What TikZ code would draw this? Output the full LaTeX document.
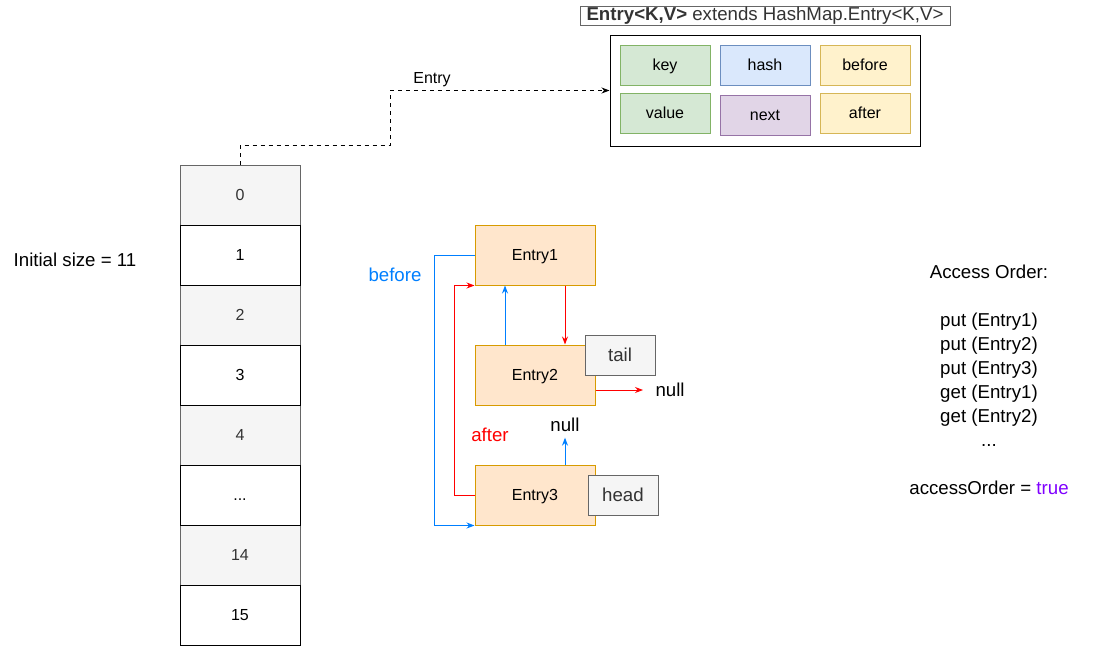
\documentclass[tikz,border=0pt]{standalone}
\usepackage{fontspec}
\setmainfont{Liberation Sans}
\usetikzlibrary{arrows.meta}

\definecolor{cellfill}{HTML}{F5F5F5}
\definecolor{cellline}{HTML}{666666}
\definecolor{celltext}{HTML}{333333}
\definecolor{keyfill}{HTML}{D5E8D4}
\definecolor{keyline}{HTML}{82B366}
\definecolor{hashfill}{HTML}{DAE8FC}
\definecolor{hashline}{HTML}{6C8EBF}
\definecolor{linkfill}{HTML}{FFF2CC}
\definecolor{linkline}{HTML}{D6B656}
\definecolor{nextfill}{HTML}{E1D5E7}
\definecolor{nextline}{HTML}{9673A6}
\definecolor{entryfill}{HTML}{FFE6CC}
\definecolor{entryline}{HTML}{D79B00}
\definecolor{beforecol}{HTML}{007FFF}
\definecolor{aftercol}{HTML}{FF0000}
\definecolor{truecol}{HTML}{7F00FF}

\begin{document}
\begin{tikzpicture}[x=0.75pt,y=-0.75pt,line width=0.75pt,
  bigtext/.style={font=\fontsize{14}{18}\selectfont},
  smalltext/.style={font=\fontsize{12}{14}\selectfont},
  smallbox/.style={smalltext, text height=10.8pt, text depth=2.4pt},
  bigbox/.style={bigtext, text height=12.6pt, text depth=2.8pt},
  cell/.style={draw, minimum width=90pt, minimum height=45pt, inner sep=0pt, smallbox},
  darkcell/.style={cell, fill=cellfill, draw=cellline, text=celltext},
  field/.style={draw, minimum width=67.5pt, minimum height=30pt, inner sep=0pt, smallbox},
  entry/.style={draw=entryline, fill=entryfill, minimum width=90pt, minimum height=45pt, inner sep=0pt, smallbox},
  marker/.style={draw=cellline, fill=cellfill, text=celltext, minimum width=52.5pt, minimum height=30pt, inner sep=0pt, bigbox},
  tip/.style={-{Stealth[length=6pt,width=4.5pt]}}]
  \useasboundingbox (0,0) rectangle (1111,646);

  % Bucket array
  \node[darkcell] (c0) at (240,195) {0};
  \node[darkcell] (c2) at (240,315) {2};
  \node[darkcell] (c4) at (240,435) {4};
  \node[darkcell] (c14) at (240,555) {14};
  \node[cell] (c1) at (240,255) {1};
  \node[cell] (c3) at (240,375) {3};
  \node[cell] (cdots) at (240,495) {...};
  \node[cell] (c15) at (240,615) {15};
  \node[bigtext] (size) at (75,260) {Initial size = 11};

  % Entry class
  \node[draw=cellline, text=celltext, minimum width=277.5pt, minimum height=14.25pt, inner sep=0pt, bigtext]
    (title) at (765,15.5) {\textbf{Entry<K,V>} extends HashMap.Entry<K,V>};
  \node[draw, minimum width=232.5pt, minimum height=83.25pt] (entrybox) at (765,90.5) {};
  \node[field, fill=keyfill, draw=keyline] (key) at (665,65) {key};
  \node[field, fill=hashfill, draw=hashline] (hash) at (765,65) {hash};
  \node[field, fill=linkfill, draw=linkline] (before) at (865,65) {before};
  \node[field, fill=keyfill, draw=keyline] (value) at (665,113) {value};
  \node[field, fill=nextfill, draw=nextline] (next) at (765,115) {next};
  \node[field, fill=linkfill, draw=linkline] (after) at (865,113) {after};

  % Link from bucket to entry
  \coordinate (bend) at (390,145);
  \draw[dashed, tip] (c0.north) |- (bend) |- (entrybox.west);
  \node[smalltext] (entrylabel) at (432,80) {Entry};

  % Linked entries
  \node[entry] (e1) at (535,255) {Entry1};
  \node[entry] (e2) at (535,375) {Entry2};
  \node[entry] (e3) at (535,495) {Entry3};
  \node[marker] (tail) at (620,355) {tail};
  \node[marker] (head) at (623,495) {head};
  \node[bigtext, anchor=west, inner sep=0pt] (nulltail) at (655,390) {null};
  \node[bigtext, anchor=base, inner sep=0pt] (nullhead) at (565,431) {null};

  \draw[beforecol, tip] ([xshift=-22.5pt]e2.north) -- ([xshift=-22.5pt]e1.south);
  \draw[aftercol, tip] ([xshift=22.5pt]e1.south) -- ([xshift=22.5pt]e2.north);
  \draw[aftercol, tip, shorten >=9pt] ([yshift=-11.25pt]e2.east) -- (nulltail.west |- 0,390);
  \draw[beforecol, tip, shorten >=5pt] ([xshift=22.5pt]e3.north) -- (nullhead.base);
  \draw[beforecol, tip] (e1.west) -- ++(-40,0) |- (e3.south west);
  \draw[aftercol, tip] (e3.west) -- ++(-20,0) |- (e1.south west);
  \node[bigtext, text=beforecol] (beforelabel) at (395,275) {before};
  \node[bigtext, text=aftercol] (afterlabel) at (490,435) {after};

  % Access order
  \node[bigtext, align=center] (order) at (989,380)
    {Access Order:\\ \\put (Entry1)\\put (Entry2)\\put (Entry3)\\get (Entry1)\\get (Entry2)\\...\\ \\accessOrder = \textcolor{truecol}{true}};
\end{tikzpicture}
\end{document}
